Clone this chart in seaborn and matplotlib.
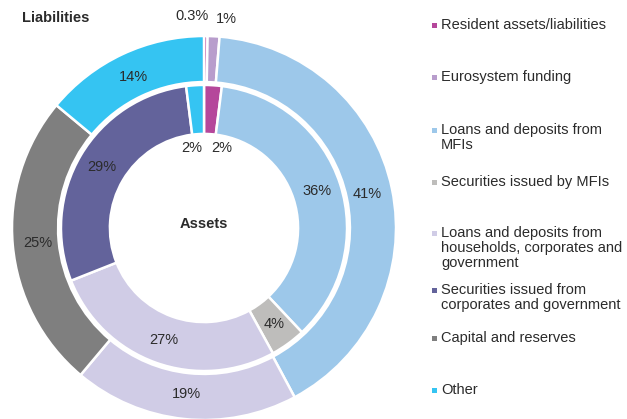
"""
Nested donut: liabilities (outer) vs assets (inner).
"""
import numpy as np
import seaborn as sns
import matplotlib.pyplot as plt
from matplotlib.patches import Rectangle

categories = ["Resident assets/liabilities", "Eurosystem funding",
              "Loans and deposits from\nMFIs", "Securities issued by MFIs",
              "Loans and deposits from\nhouseholds, corporates and\ngovernment",
              "Securities issued from\ncorporates and government",
              "Capital and reserves", "Other"]
liabilities = [0.3, 1, 41, 0, 19, 0, 25, 14]
assets = [2, 0, 36, 4, 27, 29, 0, 2]
colors = ["#B5479B", "#B89DCC", "#9DC8EA", "#BEBDBB",
          "#D0CCE6", "#63639B", "#7F7F7F", "#35C4F2"]

sns.set_style("white")
plt.rcParams['font.family'] = ['Liberation Sans', 'DejaVu Sans']
txt_col = "#2b2b2b"
fs = 10.5

fig = plt.figure(figsize=(6.27, 4.19), dpi=100)
# center at (204, 228) px, radius 192 px
ax = fig.add_axes([12 / 627, (419 - 420) / 419, 384 / 627, 384 / 419])


def ring(values, radius, width, label_r, special):
    vals = [v for v in values if v > 0]
    cols = [c for v, c in zip(values, colors) if v > 0]
    wedges, _ = ax.pie(vals, radius=radius, startangle=90, counterclock=False,
                       colors=cols,
                       wedgeprops=dict(width=width, edgecolor="white", linewidth=1.8))
    for i, (w, v) in enumerate(zip(wedges, vals)):
        if i in special:
            x, y = special[i]
        else:
            ang = np.deg2rad((w.theta1 + w.theta2) / 2)
            x, y = label_r * np.cos(ang), label_r * np.sin(ang)
        ax.text(x, y, f"{v:g}%", ha="center", va="center", fontsize=fs,
                color=txt_col)


# outer ring: liabilities
ring(liabilities, 1.0, 0.24, 0.87, {0: (-0.065, 1.105), 1: (0.115, 1.09)})
# inner ring: assets
ring(assets, 0.745, 0.255, 0.62, {0: (0.09, 0.415), 5: (-0.065, 0.415)})

ax.set_xlim(-1, 1)
ax.set_ylim(-1, 1)
ax.set_aspect("equal")
ax.axis("off")

ax.text(0, 0.02, "Assets", ha="center", va="center", fontsize=fs,
        fontweight="bold", color=txt_col)
fig.text(22 / 627, 1 - 18 / 419, "Liabilities", ha="left", va="center",
         fontsize=fs, fontweight="bold", color=txt_col)

# legend, one slot per category
tops = [25, 77, 130, 182, 233, 290, 338, 390]
for lab, col, top in zip(categories, colors, tops):
    fig.add_artist(Rectangle((432 / 627, 1 - (top + 3) / 419), 5 / 627, 5 / 419,
                             transform=fig.transFigure, color=col, lw=0))
    fig.text(441 / 627, 1 - (top - 7) / 419, lab, ha="left", va="top",
             fontsize=fs, color=txt_col, linespacing=1.1)

plt.savefig("out.png", dpi=100)
